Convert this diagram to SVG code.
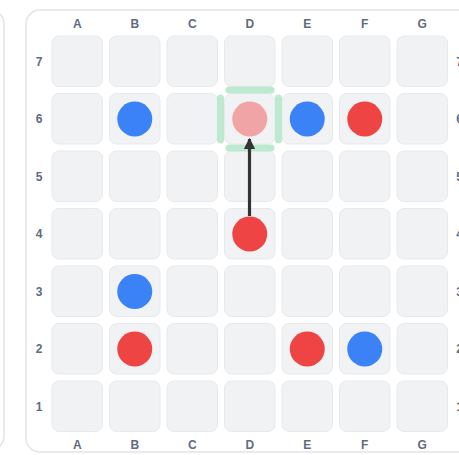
<svg xmlns="http://www.w3.org/2000/svg" width="459" height="455" viewBox="0 0 459 455">
<style>
.panel{fill:#ffffff;stroke:#e3e5e8;stroke-width:1.5}
.cell{fill:#f1f2f4;stroke:#e8e9ec;stroke-width:1}
.lbl{font-family:"Liberation Sans",Arial,sans-serif;font-size:12px;font-weight:bold;fill:#5f6b80;text-anchor:middle}
.blue{fill:#3b82f6}
.red{fill:#ef4444}
.ghost{fill:#ef4444;opacity:0.45}
.hl{stroke:#bde9d0;stroke-width:7;stroke-linecap:round;fill:none}
.arrow{stroke:#333333;stroke-width:3.2;fill:none}
</style>
<defs>
<marker id="ah" viewBox="0 0 10 10" refX="9" refY="5" markerWidth="3.6" markerHeight="3.6" orient="auto" markerUnits="strokeWidth">
<path d="M0,0 L10,5 L0,10 z" fill="#333333"/>
</marker>
</defs>
<rect class="panel" x="-200" y="10" width="204" height="440" rx="14"/>
<rect class="panel" x="26" y="10" width="460" height="442" rx="14"/>
<g id="cells">
<rect class="cell" x="52" y="36" width="50.5" height="50.5" rx="7"/><rect class="cell" x="109.5" y="36" width="50.5" height="50.5" rx="7"/><rect class="cell" x="167" y="36" width="50.5" height="50.5" rx="7"/><rect class="cell" x="224.5" y="36" width="50.5" height="50.5" rx="7"/><rect class="cell" x="282" y="36" width="50.5" height="50.5" rx="7"/><rect class="cell" x="339.5" y="36" width="50.5" height="50.5" rx="7"/><rect class="cell" x="397" y="36" width="50.5" height="50.5" rx="7"/>
<rect class="cell" x="52" y="93.5" width="50.5" height="50.5" rx="7"/><rect class="cell" x="109.5" y="93.5" width="50.5" height="50.5" rx="7"/><rect class="cell" x="167" y="93.5" width="50.5" height="50.5" rx="7"/><rect class="cell" x="224.5" y="93.5" width="50.5" height="50.5" rx="7"/><rect class="cell" x="282" y="93.5" width="50.5" height="50.5" rx="7"/><rect class="cell" x="339.5" y="93.5" width="50.5" height="50.5" rx="7"/><rect class="cell" x="397" y="93.5" width="50.5" height="50.5" rx="7"/>
<rect class="cell" x="52" y="151" width="50.5" height="50.5" rx="7"/><rect class="cell" x="109.5" y="151" width="50.5" height="50.5" rx="7"/><rect class="cell" x="167" y="151" width="50.5" height="50.5" rx="7"/><rect class="cell" x="224.5" y="151" width="50.5" height="50.5" rx="7"/><rect class="cell" x="282" y="151" width="50.5" height="50.5" rx="7"/><rect class="cell" x="339.5" y="151" width="50.5" height="50.5" rx="7"/><rect class="cell" x="397" y="151" width="50.5" height="50.5" rx="7"/>
<rect class="cell" x="52" y="208.5" width="50.5" height="50.5" rx="7"/><rect class="cell" x="109.5" y="208.5" width="50.5" height="50.5" rx="7"/><rect class="cell" x="167" y="208.5" width="50.5" height="50.5" rx="7"/><rect class="cell" x="224.5" y="208.5" width="50.5" height="50.5" rx="7"/><rect class="cell" x="282" y="208.5" width="50.5" height="50.5" rx="7"/><rect class="cell" x="339.5" y="208.5" width="50.5" height="50.5" rx="7"/><rect class="cell" x="397" y="208.5" width="50.5" height="50.5" rx="7"/>
<rect class="cell" x="52" y="266" width="50.5" height="50.5" rx="7"/><rect class="cell" x="109.5" y="266" width="50.5" height="50.5" rx="7"/><rect class="cell" x="167" y="266" width="50.5" height="50.5" rx="7"/><rect class="cell" x="224.5" y="266" width="50.5" height="50.5" rx="7"/><rect class="cell" x="282" y="266" width="50.5" height="50.5" rx="7"/><rect class="cell" x="339.5" y="266" width="50.5" height="50.5" rx="7"/><rect class="cell" x="397" y="266" width="50.5" height="50.5" rx="7"/>
<rect class="cell" x="52" y="323.5" width="50.5" height="50.5" rx="7"/><rect class="cell" x="109.5" y="323.5" width="50.5" height="50.5" rx="7"/><rect class="cell" x="167" y="323.5" width="50.5" height="50.5" rx="7"/><rect class="cell" x="224.5" y="323.5" width="50.5" height="50.5" rx="7"/><rect class="cell" x="282" y="323.5" width="50.5" height="50.5" rx="7"/><rect class="cell" x="339.5" y="323.5" width="50.5" height="50.5" rx="7"/><rect class="cell" x="397" y="323.5" width="50.5" height="50.5" rx="7"/>
<rect class="cell" x="52" y="381" width="50.5" height="50.5" rx="7"/><rect class="cell" x="109.5" y="381" width="50.5" height="50.5" rx="7"/><rect class="cell" x="167" y="381" width="50.5" height="50.5" rx="7"/><rect class="cell" x="224.5" y="381" width="50.5" height="50.5" rx="7"/><rect class="cell" x="282" y="381" width="50.5" height="50.5" rx="7"/><rect class="cell" x="339.5" y="381" width="50.5" height="50.5" rx="7"/><rect class="cell" x="397" y="381" width="50.5" height="50.5" rx="7"/>
</g>
<g id="labels">
<text class="lbl" x="77.25" y="28">A</text><text class="lbl" x="134.75" y="28">B</text><text class="lbl" x="192.25" y="28">C</text><text class="lbl" x="249.75" y="28">D</text><text class="lbl" x="307.25" y="28">E</text><text class="lbl" x="364.75" y="28">F</text><text class="lbl" x="422.25" y="28">G</text>
<text class="lbl" x="77.25" y="449">A</text><text class="lbl" x="134.75" y="449">B</text><text class="lbl" x="192.25" y="449">C</text><text class="lbl" x="249.75" y="449">D</text><text class="lbl" x="307.25" y="449">E</text><text class="lbl" x="364.75" y="449">F</text><text class="lbl" x="422.25" y="449">G</text>
<text class="lbl" x="39" y="65.5">7</text><text class="lbl" x="39" y="123">6</text><text class="lbl" x="39" y="180.5">5</text><text class="lbl" x="39" y="238">4</text><text class="lbl" x="39" y="295.5">3</text><text class="lbl" x="39" y="353">2</text><text class="lbl" x="39" y="410.5">1</text>
<text class="lbl" x="459.5" y="65.5">7</text><text class="lbl" x="459.5" y="123">6</text><text class="lbl" x="459.5" y="180.5">5</text><text class="lbl" x="459.5" y="238">4</text><text class="lbl" x="459.5" y="295.5">3</text><text class="lbl" x="459.5" y="353">2</text><text class="lbl" x="459.5" y="410.5">1</text>
</g>
<g id="highlight-D6">
<line class="hl" x1="229" y1="90" x2="271" y2="90"/>
<line class="hl" x1="229" y1="148" x2="271" y2="148"/>
<line class="hl" x1="220.5" y1="98" x2="220.5" y2="140"/>
<line class="hl" x1="278.5" y1="98" x2="278.5" y2="140"/>
</g>
<g id="pieces">
<circle id="B6" class="blue" cx="134.75" cy="119" r="17.5"/>
<circle id="D6" class="ghost" cx="249.75" cy="119" r="17.5"/>
<circle id="E6" class="blue" cx="307.25" cy="119" r="17.5"/>
<circle id="F6" class="red" cx="364.75" cy="119" r="17.5"/>
<circle id="D4" class="red" cx="249.75" cy="234" r="17.5"/>
<circle id="B3" class="blue" cx="134.75" cy="291.5" r="17.5"/>
<circle id="B2" class="red" cx="134.75" cy="349" r="17.5"/>
<circle id="E2" class="red" cx="307.25" cy="349" r="17.5"/>
<circle id="F2" class="blue" cx="364.75" cy="349" r="17.5"/>
</g>
<g id="connectors">
<line class="arrow" x1="249.5" y1="216" x2="249.5" y2="139" marker-end="url(#ah)"/>
</g>
</svg>
